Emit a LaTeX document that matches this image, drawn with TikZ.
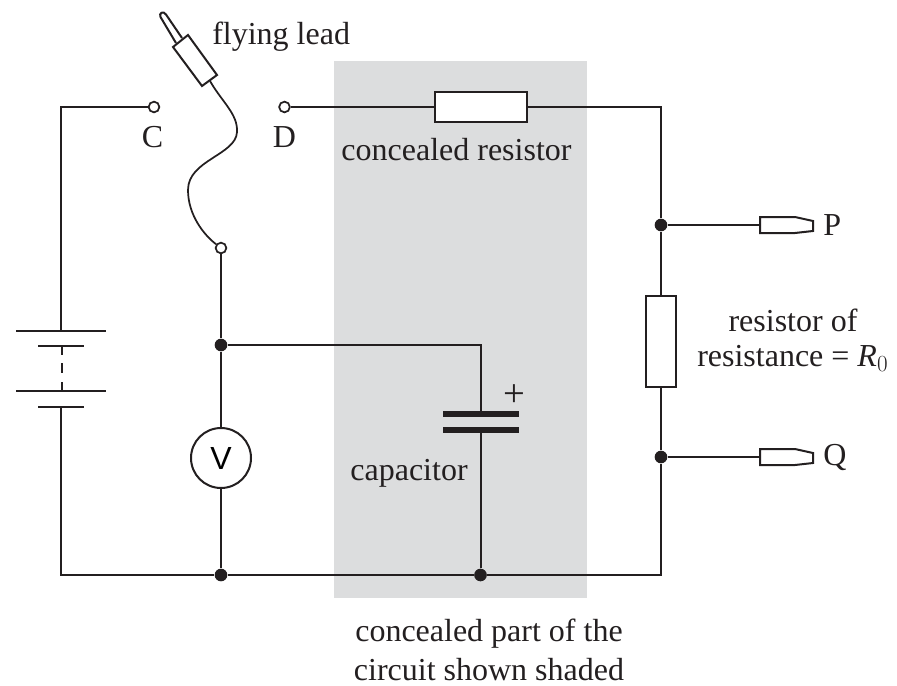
\documentclass[tikz,border=0pt]{standalone}
\usepackage{fontspec}
\setmainfont{Liberation Serif}
\setsansfont{Liberation Sans}
\usetikzlibrary{positioning}
\tikzset{
  wire/.style={line width=1.5pt,color={rgb, 255:red, 35; green, 31; blue, 32 }},
  lbl/.style={font=\fontsize{24}{27}\selectfont,color={rgb, 255:red, 35; green, 31; blue, 32 },inner sep=0pt},
  dotnode/.style={circle,fill={rgb, 255:red, 35; green, 31; blue, 32 },inner sep=0pt,minimum size=9.5pt},
  opennode/.style={circle,draw={rgb, 255:red, 35; green, 31; blue, 32 },fill=white,line width=1.3pt,inner sep=0pt,minimum size=8pt},
  boxnode/.style={draw={rgb, 255:red, 35; green, 31; blue, 32 },fill=white,line width=1.5pt,inner sep=0pt},
}
\begin{document}
\begin{tikzpicture}[x=0.75pt,y=0.75pt,yscale=-1,xscale=1]
\useasboundingbox (0,0) rectangle (897,686);
% Shape: Rectangle
\fill [color={rgb, 255:red, 220; green, 221; blue, 222 }] (334,61) rectangle (587,598);

% corners and junctions
\coordinate (tl) at (60.5,107);
\coordinate (bl) at (60.5,575);
\coordinate (tr) at (661,107);
\coordinate (br) at (661,575);
\coordinate (capcorner) at (480.5,345);
\coordinate (battop) at (60.5,331);
\coordinate (batbot) at (60.5,407);
\coordinate (captop) at (480.5,414);
\coordinate (capbot) at (480.5,430);
\node [opennode] (C) at (154,107) {};
\node [opennode] (D) at (284.5,107) {};
\node [opennode] (lead) at (221,248) {};
\node [dotnode] (junctV) at (221,345) {};
\node [dotnode] (junctB) at (221,575) {};
\node [dotnode] (junctC) at (480.5,575) {};
\node [dotnode] (junctP) at (661,225) {};
\node [dotnode] (junctQ) at (661,457) {};
\node [boxnode,minimum width=69pt,minimum height=23pt] (Rtop) at (481,107) {};
\node [boxnode,minimum width=23pt,minimum height=68pt] (Rzero) at (661,341.5) {};
\node [circle,draw={rgb, 255:red, 35; green, 31; blue, 32 },fill=white,line width=1.5pt,inner sep=0pt,minimum size=45pt,font=\sffamily\fontsize{24}{27}\selectfont] (V) at (221,458) {V};

% Straight Lines
\draw [wire] (C) -- (tl) -- (battop);
\draw [wire] (batbot) -- (bl) -- (junctB) -- (junctC) -- (br) -- (junctQ) -- (Rzero) -- (junctP) -- (tr) -- (Rtop) -- (D);
\draw [wire] (lead) -- (junctV) -- (V) -- (junctB);
\draw [wire] (junctV) -- (capcorner) -- (captop);
\draw [wire] (capbot) -- (junctC);

% battery
\draw [wire,line width=2.2pt] (16,331) -- (106,331);
\draw [wire,line width=2.2pt] (38,346) -- (84,346);
\draw [wire,line width=2.2pt] (16,391) -- (106,391);
\draw [wire,line width=2.2pt] (38,407) -- (84,407);
\draw [wire] (61.5,346) -- (61.5,355);
\draw [wire] (61.5,363) -- (61.5,373);
\draw [wire] (61.5,382) -- (61.5,391);

% capacitor
\draw [wire,line width=4pt] (443,414) -- (519,414);
\draw [wire,line width=4pt] (443,430) -- (519,430);

% probes
\draw [wire] (junctP) -- (760,225);
\draw [wire,fill=white] (760,217) -- (795,217) -- (813,221) -- (813,231) -- (795,233) -- (760,233) -- cycle;
\draw [wire] (junctQ) -- (760,457);
\draw [wire,fill=white] (760,449) -- (795,449) -- (813,453) -- (813,463) -- (795,465) -- (760,465) -- cycle;

% Curve Lines
\draw [wire,line width=1.3pt] (210,81) .. controls (222,102) and (238,114) .. (237,132) .. controls (236,155) and (188,160) .. (188,190) .. controls (188,215) and (204,235) .. (lead);
% plug
\draw [wire,fill=white] (182,38) -- (166,14.5) .. controls (163.5,10.5) and (158.5,13) .. (160.5,17) -- (176,43);
\draw [wire,fill=white] (173,47) -- (188,35) -- (217,75) -- (202,86) -- cycle;

\node [lbl,anchor=west] (flying) at (212,37) {flying lead};
\node [lbl] (labC) at (152.5,137) {C};
\node [lbl] (labD) at (284.5,137) {D};
\node [lbl] (conres) at (456.5,150) {concealed resistor};
\node [lbl] (cap) at (409,473) {capacitor};
\node [lbl,font=\fontsize{29}{29}\selectfont] (plus) at (514,396) {+};
\node [lbl,anchor=west] (labP) at (823,225) {P};
\node [lbl,anchor=west] (labQ) at (823,457) {Q};
\node [lbl] (res1) at (793,320) {resistor of};
\node [lbl,anchor=west] (res2) at (697,358) {resistance = \textit{R}$_{0}$};
\node [lbl] (part1) at (489,634) {concealed part of the};
\node [lbl] (part2) at (489,670) {circuit shown shaded};
\end{tikzpicture}
\end{document}
